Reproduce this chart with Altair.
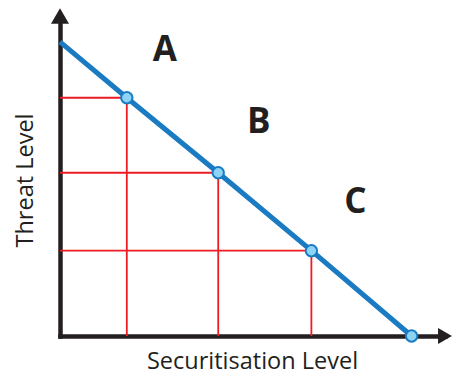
import altair as alt
import pandas as pd

# ---- data (in chart units) ----
sec_level = [1.9, 4.5, 7.15]          # securitisation level of the marked points
threat_level = [8.1, 5.55, 2.9]       # matching threat level
line_x = [0, 1.9, 4.5, 7.15, 10]      # threat/securitisation trade-off line
line_y = [10, 8.1, 5.55, 2.9, 0]
zone_labels = ["A", "B", "C"]
zone_x = [2.98, 5.65, 8.4]
zone_y = [9.71, 7.28, 4.56]
X_MAX = 10.95
Y_MAX = 10.88

BLACK = "#231f20"
BLUE = "#1a7bc3"
LIGHT = "#8dd3f6"
RED = "#ed1c24"

xs = alt.Scale(domain=[0, X_MAX], nice=False, zero=False)
ys = alt.Scale(domain=[0, Y_MAX], nice=False, zero=False)

x_axis = alt.Axis(title="Securitisation Level", labels=False, ticks=False, grid=False,
                  domainColor=BLACK, domainWidth=4.5, domainCap="square",
                  titleFont="Open Sans", titleFontSize=23.5, titleFontWeight="normal",
                  titleColor=BLACK, titleX=192, titleY=32, titleBaseline="alphabetic",
                  titleAlign="center")
y_axis = alt.Axis(title="Threat Level", labels=False, ticks=False, grid=False,
                  domainColor=BLACK, domainWidth=4.5, domainCap="square",
                  titleFont="Open Sans", titleFontSize=23.5, titleFontWeight="normal",
                  titleColor=BLACK, titleX=-28, titleY=164, titleBaseline="alphabetic",
                  titleAlign="center", titleAngle=270)


def X(f):
    return alt.X(f, type="quantitative", scale=xs, axis=x_axis)


def Y(f):
    return alt.Y(f, type="quantitative", scale=ys, axis=y_axis)


pts = pd.DataFrame({"x": sec_level, "y": threat_level, "x0": 0.0, "y0": 0.0})
line_df = pd.DataFrame({"x": line_x, "y": line_y, "o": list(range(len(line_x)))})
circ_df = pd.DataFrame({"x": sec_level + [line_x[-1]], "y": threat_level + [line_y[-1]]})
lab_df = pd.DataFrame({"x": zone_x, "y": zone_y, "t": zone_labels})

h_rules = alt.Chart(pts).mark_rule(color=RED, strokeWidth=1.8).encode(
    x=X("x0"), x2="x", y=Y("y"))
v_rules = alt.Chart(pts).mark_rule(color=RED, strokeWidth=1.8).encode(
    x=X("x"), y=Y("y0"), y2="y")
line = alt.Chart(line_df).mark_line(color=BLUE, strokeWidth=5).encode(
    x=X("x"), y=Y("y"), order="o:Q")
circles = alt.Chart(circ_df).mark_point(shape="circle", filled=True, fill=LIGHT,
                                        stroke=BLUE, strokeWidth=2, size=130,
                                        opacity=1, fillOpacity=1).encode(x=X("x"), y=Y("y"))
arrow_x = alt.Chart(pd.DataFrame({"x": [X_MAX], "y": [0.0]})).mark_point(
    shape="triangle-right", filled=True, color=BLACK, size=256, opacity=1).encode(
    x=X("x"), y=Y("y"))
arrow_y = alt.Chart(pd.DataFrame({"x": [0.0], "y": [Y_MAX]})).mark_point(
    shape="triangle-up", filled=True, color=BLACK, size=324, opacity=1).encode(
    x=X("x"), y=Y("y"))
labels = alt.Chart(lab_df).mark_text(font="Open Sans", fontWeight="bold", fontSize=35,
                                     color=BLACK, baseline="middle", align="center").encode(
    x=X("x"), y=Y("y"), text="t:N")

chart = alt.layer(h_rules, v_rules, line, circles, arrow_x, arrow_y, labels).properties(
    width=385, height=320,
    autosize=alt.AutoSizeParams(type="none"),
    padding={"left": 52, "top": 8, "right": 7, "bottom": 33},
    background="white",
).configure_view(stroke=None)

chart.save("out.html", embed_options={"renderer": "svg", "actions": False})
